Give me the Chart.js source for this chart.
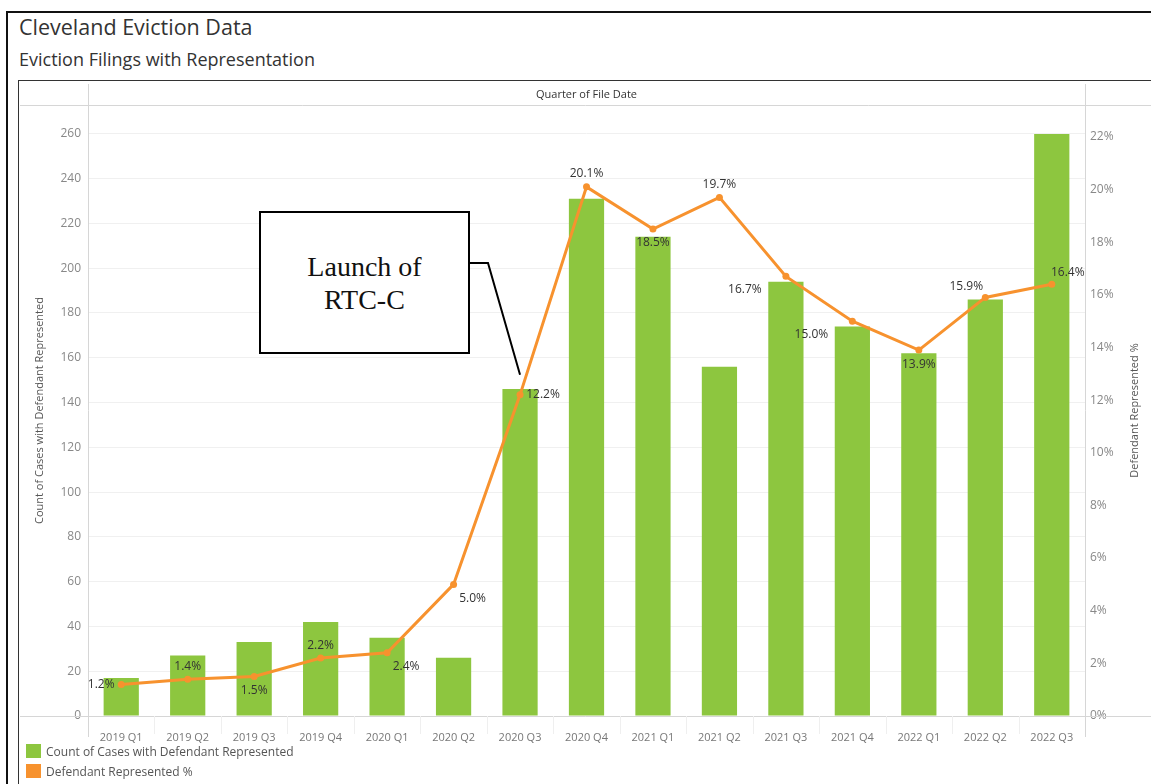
<!DOCTYPE html>
<html>
<head>
<meta charset="utf-8">
<title>Cleveland Eviction Data</title>
<script src="https://cdn.jsdelivr.net/npm/chart.js@4.4.1/dist/chart.umd.min.js"></script>
<style>
  html, body { margin:0; padding:0; background:#fff; overflow:hidden; }
  body { width:1151px; height:784px; position:relative; font-family:"Open Sans", sans-serif; }
  .frame { position:absolute; left:6px; top:11px; width:1200px; height:800px; border-left:2px solid #111; border-top:2px solid #111; }
  .inner { position:absolute; left:18px; top:80px; width:1200px; height:800px; border-left:1px solid #333; border-top:1px solid #333; }
  h1 { position:absolute; left:19px; top:12px; margin:0; font-size:21.5px; font-weight:400; color:#333; }
  h2 { position:absolute; left:19px; top:47px; margin:0; font-size:18px; font-weight:400; color:#333; }
  #wrap { position:absolute; left:18px; top:80px; width:1133px; height:704px; }
  .callout { position:absolute; left:259px; top:211px; width:207px; height:139px; border:2px solid #000; background:#fff;
             display:flex; align-items:center; justify-content:center; text-align:center;
             font-family:"Liberation Serif", serif; font-size:28px; line-height:33px; color:#111; }
  .legend { position:absolute; left:26px; top:741px; font-size:12px; color:#555; }
  .legend div { height:20px; display:flex; align-items:center; }
  .legend span { display:inline-block; width:15px; height:14px; margin-right:5px; }
</style>
</head>
<body>
<div class="frame"></div>
<div class="inner"></div>
<h1>Cleveland Eviction Data</h1>
<h2>Eviction Filings with Representation</h2>
<div id="wrap"><canvas id="chart"></canvas></div>
<div class="callout">Launch of<br>RTC-C</div>
<div class="legend">
  <div><span style="background:#8DC63F"></span>Count of Cases with Defendant Represented</div>
  <div><span style="background:#F7922E"></span>Defendant Represented %</div>
</div>

<script>
// ------------------------
// DATA
// ------------------------
const quarters = ["2019 Q1","2019 Q2","2019 Q3","2019 Q4","2020 Q1","2020 Q2","2020 Q3","2020 Q4",
                  "2021 Q1","2021 Q2","2021 Q3","2021 Q4","2022 Q1","2022 Q2","2022 Q3"];
const caseCounts = [17, 27, 33, 42, 35, 26, 146, 231, 214, 156, 194, 174, 162, 186, 260];
const representedPct = [1.2, 1.4, 1.5, 2.2, 2.4, 5.0, 12.2, 20.1, 18.5, 19.7, 16.7, 15.0, 13.9, 15.9, 16.4];
// where each % label sits relative to its point
const labelSide = ["left","above","below","above","belowRight","belowRight","right","above",
                   "below","above","belowLeft","belowLeft","below","aboveLeft","aboveRight"];

const GREEN = "#8DC63F";
const ORANGE = "#F7922E";
const SIDE_OFFSET = {
  left:[-20,0], right:[23,0], above:[0,-13], below:[0,14],
  belowRight:[19,14], belowLeft:[-41,13], aboveLeft:[-19,-11], aboveRight:[16,-12]
};

// ------------------------
// PLUGINS
// ------------------------
const framePlugin = {
  id: "frame",
  beforeDatasetsDraw(chart){
    const {ctx, chartArea:a} = chart;
    ctx.save();
    ctx.strokeStyle = "#d6d6d6";
    ctx.lineWidth = 1;
    ctx.beginPath();
    // header band + axis lines
    ctx.moveTo(2, a.top + 0.5); ctx.lineTo(chart.width, a.top + 0.5);
    ctx.moveTo(2, a.bottom + 0.5); ctx.lineTo(chart.width, a.bottom + 0.5);
    ctx.moveTo(a.left + 0.5, 4); ctx.lineTo(a.left + 0.5, a.bottom + 21);
    ctx.moveTo(a.right + 0.5, 4); ctx.lineTo(a.right + 0.5, a.bottom + 21);
    ctx.stroke();
    // faint separators under the category labels
    ctx.strokeStyle = "#efefef";
    ctx.beginPath();
    const step = (a.right - a.left) / quarters.length;
    for (let i = 1; i < quarters.length; i++){
      const px = Math.round(a.left + i*step) + 0.5;
      ctx.moveTo(px, a.bottom); ctx.lineTo(px, a.bottom + 18);
    }
    ctx.stroke();
    ctx.fillStyle = "#333";
    ctx.font = "11px 'Open Sans'";
    ctx.textAlign = "center";
    ctx.textBaseline = "middle";
    ctx.fillText("Quarter of File Date", (a.left + a.right)/2, 15);
    // right axis title, reading bottom to top
    ctx.fillStyle = "#555";
    ctx.translate(a.right + 50, (a.top + a.bottom)/2);
    ctx.rotate(-Math.PI/2);
    ctx.fillText("Defendant Represented %", 0, 0);
    ctx.restore();
  },
  afterDatasetsDraw(chart){
    const {ctx} = chart;
    const meta = chart.getDatasetMeta(0);
    ctx.save();
    // callout leader line
    const p = meta.data[6];
    ctx.strokeStyle = "#000";
    ctx.lineWidth = 2;
    ctx.beginPath();
    ctx.moveTo(448, 183);
    ctx.lineTo(470, 183);
    ctx.lineTo(p.x, p.y - 20);
    ctx.stroke();
    // % labels
    ctx.fillStyle = "#333";
    ctx.font = "12px 'Open Sans'";
    ctx.textAlign = "center";
    ctx.textBaseline = "middle";
    meta.data.forEach((pt, i) => {
      const off = SIDE_OFFSET[labelSide[i]];
      ctx.fillText(representedPct[i].toFixed(1) + "%", pt.x + off[0], pt.y + off[1]);
    });
    ctx.restore();
  }
};

// ------------------------
// CHART
// ------------------------
new Chart(document.getElementById("chart"), {
  data: {
    labels: quarters,
    datasets: [
      {
        type: "line", label: "Defendant Represented %", data: representedPct, yAxisID: "y1", order: 0,
        borderColor: ORANGE, backgroundColor: ORANGE, borderWidth: 3,
        pointRadius: 3.5, pointBackgroundColor: ORANGE, pointBorderWidth: 0, tension: 0
      },
      {
        type: "bar", label: "Count of Cases with Defendant Represented", data: caseCounts, yAxisID: "y", order: 1,
        backgroundColor: GREEN, barPercentage: 0.53, categoryPercentage: 1
      }
    ]
  },
  options: {
    responsive: true,
    maintainAspectRatio: false,
    animation: false,
    layout: { padding: { top: 25, left: 0, right: 0, bottom: 0 } },
    plugins: { legend: { display: false }, tooltip: { enabled: false } },
    scales: {
      x: {
        grid: { display: false },
        border: { display: false },
        ticks: { color: "#777", font: { family: "Open Sans", size: 11 }, padding: 7, maxRotation: 0 },
        afterFit: s => { s.height = 68; }
      },
      y: {
        position: "left", min: 0, max: 272.9,
        grid: { color: "#f0f0f0", drawTicks: false },
        border: { display: false },
        ticks: { stepSize: 20, includeBounds: false, color: "#888", font: { family: "Open Sans", size: 12 }, padding: 7 },
        title: { display: true, text: "Count of Cases with Defendant Represented", color: "#555",
                 font: { family: "Open Sans", size: 11 }, padding: { top: 15 } },
        afterFit: s => { s.width = 70; }
      },
      y1: {
        position: "right", min: 0, max: 23.21,
        grid: { display: false, drawTicks: false },
        border: { display: false },
        ticks: { stepSize: 2, includeBounds: false, color: "#888", font: { family: "Open Sans", size: 12 }, padding: 5,
                 callback: v => Math.round(v) + "%" },
        afterFit: s => { s.width = 66; }
      }
    }
  },
  plugins: [framePlugin]
});
</script>
</body>
</html>
